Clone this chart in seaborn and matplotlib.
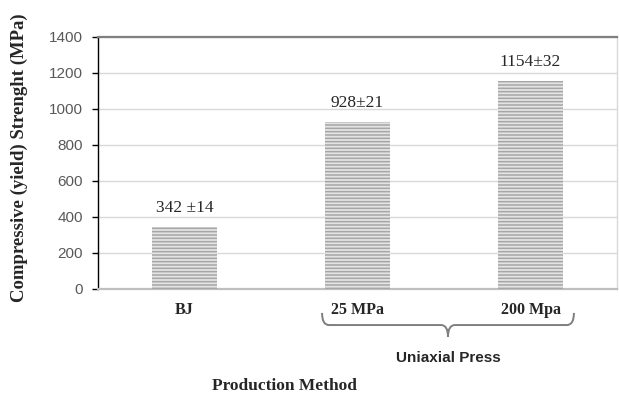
import matplotlib
matplotlib.use("Agg")
import matplotlib.pyplot as plt
import matplotlib.transforms as mtransforms
from matplotlib.path import Path
from matplotlib.patches import PathPatch
import seaborn as sns
import pandas as pd

# Data
methods = ["BJ", "25 MPa", "200 Mpa"]
strength = [342, 928, 1154]
labels = ["342 ±14", "928±21", "1154±32"]
y_ticks = [0, 200, 400, 600, 800, 1000, 1200, 1400]

df = pd.DataFrame({"method": methods, "strength": strength})

sns.set_style("white")
plt.rcParams["hatch.color"] = "#a6a6a6"
plt.rcParams["hatch.linewidth"] = 1.1

serif = ["Liberation Serif", "DejaVu Serif"]
sans = ["Liberation Sans", "DejaVu Sans"]

fig = plt.figure(figsize=(6.19, 3.96), dpi=100)
ax = fig.add_axes([98 / 619, 1 - 289 / 396, 519 / 619, 252 / 396])

sns.barplot(data=df, x="method", y="strength", ax=ax, color="#e4e4e4",
            saturation=1, width=0.376, edgecolor="#a6a6a6", linewidth=0,
            hatch="-----", zorder=3)

ax.set_xlim(-0.5, 2.5)
ax.set_ylim(0, 1400)
ax.set_yticks(y_ticks)
ax.yaxis.grid(True, color="#d9d9d9", lw=1, zorder=0)
ax.set_axisbelow(True)

for s, c, w in [("top", "#7f7f7f", 1.6), ("right", "#d9d9d9", 1.0),
                ("bottom", "#bfbfbf", 1.6), ("left", "black", 1.0)]:
    ax.spines[s].set_visible(True)
    ax.spines[s].set_color(c)
    ax.spines[s].set_linewidth(w)

ax.tick_params(axis="y", left=True, length=4, width=1, color="black",
               direction="out", pad=7, labelcolor="#595959", labelsize=11)
ax.tick_params(axis="x", length=0, pad=9)
for t in ax.get_yticklabels():
    t.set_family(sans)
for t in ax.get_xticklabels():
    t.set_family(serif)
    t.set_fontweight("bold")
    t.set_fontsize(11.5)

# value labels
for i, (v, lab) in enumerate(zip(strength, labels)):
    ax.annotate(lab, (i, v), xytext=(0, 8), textcoords="offset points",
                ha="center", va="bottom", family=serif, fontsize=12.5)

ax.set_ylabel("Compressive (yield) Strenght (MPa)", family=serif,
              fontweight="bold", fontsize=13.5)
ax.yaxis.set_label_coords(-0.135, 0.52)
ax.set_xlabel("Production Method", family=serif, fontweight="bold",
              fontsize=12.5)
ax.xaxis.set_label_coords(0.36, -0.355)

# brace under the two uniaxial press groups
trans = mtransforms.blended_transform_factory(ax.transData, ax.transAxes)
x0, x1 = 0.795, 2.251
xm = (x0 + x1) / 2
dx = 0.04
y_line, y_end, y_tip = -0.143, -0.095, -0.19
verts = [(x0, y_end), (x0, y_line), (x0 + dx, y_line),
         (xm - dx, y_line), (xm, y_line), (xm, y_tip),
         (xm, y_line), (xm + dx, y_line),
         (x1 - dx, y_line), (x1, y_line), (x1, y_end)]
codes = [Path.MOVETO, Path.CURVE3, Path.CURVE3,
         Path.LINETO, Path.CURVE3, Path.CURVE3,
         Path.CURVE3, Path.CURVE3,
         Path.LINETO, Path.CURVE3, Path.CURVE3]
ax.add_patch(PathPatch(Path(verts, codes), transform=trans, fill=False,
                       edgecolor="#7f7f7f", lw=1.4, clip_on=False))
ax.text(xm, -0.275, "Uniaxial Press", transform=trans, ha="center",
        va="center", family=sans, fontweight="bold", fontsize=11)

fig.savefig("out.png", dpi=100)
